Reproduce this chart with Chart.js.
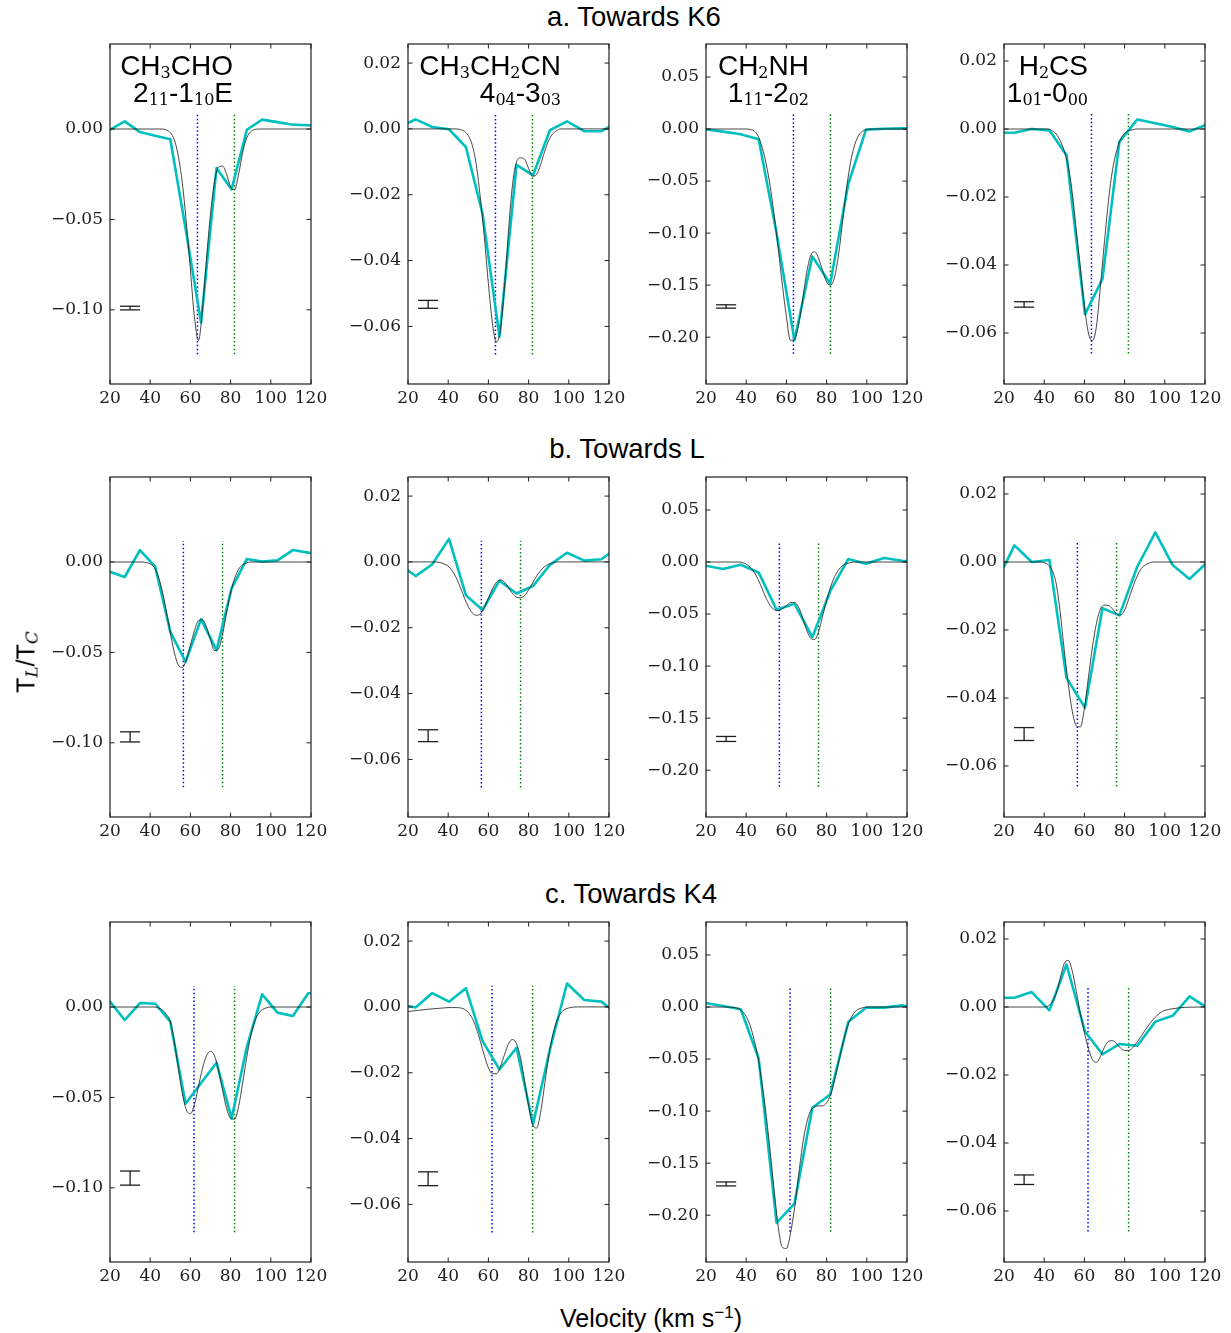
<!DOCTYPE html>
<html>
<head>
<meta charset="utf-8">
<script src="https://cdn.jsdelivr.net/npm/chart.js@4.4.0/dist/chart.umd.min.js"></script>
<style>
  html, body { margin: 0; padding: 0; background: #fff; }
  #fig { position: relative; width: 1231px; height: 1333px; overflow: hidden; background: #fff; }
  #fig canvas { position: absolute; }
  .t { position: absolute; white-space: nowrap; font-family: "Liberation Sans", Arial, sans-serif; color: #000; line-height: 1; }
  .t sub { font-family: "DejaVu Serif", serif; font-size: 16px; vertical-align: -0.2em; line-height: 0; }
  .t sub.m { font-family: "DejaVu Serif", serif; font-style: italic; font-size: 17px; }
</style>
</head>
<body>
<div id="fig"></div>
<script>
// ---------- axis ranges and labels ----------
const X_MIN = 20, X_MAX = 120;
const X_TICKS = [20, 40, 60, 80, 100, 120];
const ROW_TITLES = ['a. Towards K6', 'b. Towards L', 'c. Towards K4'];
const MOLECULES = ['CH<sub>3</sub>CHO', 'CH<sub>3</sub>CH<sub>2</sub>CN', 'CH<sub>2</sub>NH', 'H<sub>2</sub>CS'];
const TRANSITIONS = ['2<sub>11</sub>-1<sub>10</sub>E', '4<sub>04</sub>-3<sub>03</sub>', '1<sub>11</sub>-2<sub>02</sub>', '1<sub>01</sub>-0<sub>00</sub>'];
const Y_MIN = [-0.141, -0.0775, -0.245, -0.075];
const Y_MAX = [0.047, 0.0258, 0.0817, 0.025];
const Y_TICKS = [
  [-0.10, -0.05, 0.00],
  [-0.06, -0.04, -0.02, 0.00, 0.02],
  [-0.20, -0.15, -0.10, -0.05, 0.00, 0.05],
  [-0.06, -0.04, -0.02, 0.00, 0.02]
];
const X_TITLE = 'Velocity (km s<sup style="font-size:17px;line-height:0">\u22121</sup>)';
const Y_TITLE = 'T<sub class="m">L</sub>/T<sub class="m">C</sub>';

// ---------- spectral channels (km/s) per molecule ----------
const CHAN_CH3CHO   = [20, 27.3, 34.9, 42.5, 50.0, 57.6, 65.3, 73.0, 80.5, 88.1, 95.7, 103.3, 111.0, 118.6, 120];
const CHAN_CH3CH2CN = [20, 23.8, 32.1, 40.4, 48.8, 57.1, 65.5, 74.0, 82.2, 90.6, 99.1, 107.7, 116.2, 120];
const CHAN_CH2NH    = [20, 28.5, 37.3, 46.2, 55.1, 64.0, 72.9, 81.8, 90.8, 99.6, 108.6, 117.5, 120];
const CHAN_H2CS     = [20, 25.2, 33.8, 42.6, 51.1, 60.3, 69.0, 77.4, 86.3, 95.3, 103.9, 112.3, 120];

// ---------- observed line-to-continuum ratio ----------
const OBS_K6_CH3CHO   = [-0.0004, 0.0042, -0.0017, -0.0037, -0.0057, -0.055, -0.107, -0.0216, -0.0334, -0.0004, 0.0052, 0.0038, 0.0024, 0.0021, 0.002];
const OBS_K6_CH3CH2CN = [0.0018, 0.0029, 0.0006, -0.0001, -0.0055, -0.0258, -0.0631, -0.0109, -0.0141, -0.0004, 0.0023, -0.0007, -0.0007, 0.0006];
const OBS_K6_CH2NH    = [-0.0003, -0.0025, -0.005, -0.0099, -0.100, -0.203, -0.1224, -0.1487, -0.0526, -0.0006, 0.0003, 0.0006, 0.0006];
const OBS_K6_H2CS     = [-0.0011, -0.0011, 0.0000, -0.0004, -0.0077, -0.0545, -0.0441, -0.0038, 0.0028, 0.0017, 0.0006, -0.0007, 0.0011];

const OBS_L_CH3CHO    = [-0.0054, -0.0083, 0.0066, -0.0026, -0.0386, -0.0552, -0.0316, -0.0487, -0.0146, 0.0017, 0.0002, 0.0009, 0.0066, 0.0052, 0.005];
const OBS_L_CH3CH2CN  = [-0.0026, -0.0043, -0.0007, 0.0070, -0.0101, -0.0146, -0.0057, -0.0096, -0.0073, -0.0009, 0.0028, 0.0004, 0.0008, 0.0025];
const OBS_L_CH2NH     = [-0.0035, -0.0067, -0.0026, -0.010, -0.0459, -0.0401, -0.0722, -0.028, 0.0029, -0.0016, 0.0039, 0.0012, 0.0006];
const OBS_L_H2CS      = [-0.0014, 0.0049, 0.0000, 0.0006, -0.0341, -0.0429, -0.0136, -0.0157, -0.0014, 0.0087, -0.0009, -0.005, -0.0007];

const OBS_K4_CH3CHO   = [0.003, -0.0072, 0.0022, 0.0018, -0.0081, -0.0535, -0.042, -0.0308, -0.0616, -0.022, 0.007, -0.0031, -0.005, 0.0076, 0.0076];
const OBS_K4_CH3CH2CN = [0.0003, -0.0002, 0.0042, 0.0016, 0.0057, -0.0104, -0.019, -0.0124, -0.0356, -0.013, 0.0071, 0.0021, 0.0016, -0.0002];
const OBS_K4_CH2NH    = [0.0038, 0.0009, -0.0022, -0.0494, -0.2074, -0.189, -0.0968, -0.084, -0.0141, -0.0006, -0.0006, 0.0016, 0.0006];
const OBS_K4_H2CS     = [0.0027, 0.0027, 0.0044, -0.001, 0.0125, -0.0072, -0.0139, -0.0109, -0.0114, -0.0043, -0.0026, 0.0031, 0.0002];

// ---------- fitted model profiles ----------
const MODEL_V = [20, 30, 34, 36, 38, 40, 42, 44, 46, 48, 50, 52, 54, 56, 58, 60, 62, 64, 66, 68, 70,
                 72, 74, 76, 78, 80, 82, 84, 86, 88, 90, 92, 94, 96, 98, 100, 104, 110, 120];

const FIT_K6_CH3CHO = [0, 0, 0, 0, 0, 0, 0, 0, 0, -0.0005, -0.002, -0.006, -0.015, -0.030, -0.052, -0.078, -0.104, -0.117, -0.100, -0.072, -0.047,
  -0.029, -0.021, -0.0205, -0.025, -0.032, -0.0335, -0.025, -0.013, -0.005, -0.0015, -0.0003, 0, 0, 0, 0, 0, 0, 0];
const FIT_K6_CH3CH2CN = [0, 0, 0, 0, 0, 0, 0, 0, -0.0002, -0.0007, -0.002, -0.005, -0.011, -0.021, -0.033, -0.047, -0.059, -0.0648, -0.061, -0.048, -0.031,
  -0.017, -0.010, -0.0088, -0.0092, -0.012, -0.0143, -0.0138, -0.0108, -0.0068, -0.0035, -0.0015, -0.0005, 0, 0, 0, 0, 0, 0];
const FIT_K6_CH2NH = [0, 0, 0, 0, 0, 0, -0.0005, -0.002, -0.007, -0.018, -0.034, -0.056, -0.084, -0.116, -0.150, -0.180, -0.203, -0.202, -0.189, -0.165, -0.139,
  -0.122, -0.118, -0.124, -0.136, -0.147, -0.150, -0.142, -0.120, -0.088, -0.056, -0.031, -0.015, -0.006, -0.002, -0.0005, 0, 0, 0];
const FIT_K6_H2CS = [0, 0, 0, 0, 0, 0, 0, -0.0005, -0.0015, -0.0035, -0.0065, -0.011, -0.019, -0.030, -0.041, -0.052, -0.060, -0.0623, -0.058, -0.046, -0.033,
  -0.021, -0.012, -0.0065, -0.003, -0.0013, -0.0005, -0.0002, 0, 0, 0, 0, 0, 0, 0, 0, 0, 0, 0];

const FIT_L_CH3CHO = [0, 0, 0, 0, -0.0003, -0.001, -0.003, -0.008, -0.016, -0.027, -0.039, -0.050, -0.057, -0.0583, -0.054, -0.046, -0.038, -0.0325, -0.032, -0.036, -0.043,
  -0.049, -0.048, -0.040, -0.028, -0.017, -0.009, -0.004, -0.0015, -0.0005, 0, 0, 0, 0, 0, 0, 0, 0, 0];
const FIT_L_CH3CH2CN = [0, 0, 0, -0.0002, -0.0006, -0.0013, -0.0027, -0.0048, -0.0077, -0.0108, -0.0136, -0.0155, -0.0162, -0.0158, -0.0138, -0.011, -0.0082, -0.0062, -0.0055, -0.0062, -0.0078,
  -0.0096, -0.0107, -0.0109, -0.0102, -0.0085, -0.0064, -0.0043, -0.0026, -0.0014, -0.0007, -0.0003, 0, 0, 0, 0, 0, 0, 0];
const FIT_L_CH2NH = [0, 0, 0, 0, -0.0005, -0.002, -0.005, -0.010, -0.017, -0.026, -0.035, -0.042, -0.0458, -0.0466, -0.045, -0.042, -0.039, -0.0388, -0.043, -0.053, -0.065,
  -0.073, -0.0745, -0.067, -0.052, -0.037, -0.024, -0.014, -0.0075, -0.0035, -0.0015, -0.0005, 0, 0, 0, 0, 0, 0, 0];
const FIT_L_H2CS = [0, 0, 0, 0, 0, -0.0002, -0.0008, -0.0025, -0.0065, -0.015, -0.026, -0.036, -0.044, -0.0482, -0.0485, -0.043, -0.034, -0.025, -0.018, -0.0138, -0.0127,
  -0.0128, -0.0138, -0.0152, -0.0156, -0.0142, -0.011, -0.0075, -0.0045, -0.0022, -0.001, -0.0004, 0, 0, 0, 0, 0, 0, 0];

const FIT_K4_CH3CHO = [0, 0, 0, 0, 0, 0, 0, -0.0005, -0.0015, -0.004, -0.008, -0.019, -0.034, -0.048, -0.057, -0.059, -0.054, -0.044, -0.034, -0.027, -0.0245,
  -0.027, -0.035, -0.046, -0.056, -0.0615, -0.062, -0.055, -0.042, -0.028, -0.016, -0.008, -0.0035, -0.0013, -0.0004, 0, 0, 0, 0];
const FIT_K4_CH3CH2CN = [-0.0014, -0.0007, -0.0005, -0.0004, -0.0003, -0.0002, -0.0002, -0.0002, -0.0003, -0.0007, -0.0017, -0.0035, -0.0065, -0.0105, -0.0148, -0.0185, -0.0203, -0.0203, -0.018, -0.0145, -0.0112,
  -0.0099, -0.0112, -0.0155, -0.0225, -0.030, -0.0358, -0.0368, -0.032, -0.0235, -0.015, -0.0085, -0.0043, -0.0019, -0.0008, -0.0003, 0, 0, 0];
const FIT_K4_CH2NH = [0, 0, -0.0005, -0.0015, -0.004, -0.009, -0.018, -0.032, -0.050, -0.075, -0.105, -0.140, -0.178, -0.212, -0.231, -0.232, -0.218, -0.194, -0.163, -0.133, -0.112,
  -0.100, -0.096, -0.095, -0.095, -0.092, -0.084, -0.070, -0.053, -0.036, -0.021, -0.011, -0.005, -0.002, -0.0007, 0, 0, 0, 0];
const FIT_K4_H2CS = [0, 0, 0, 0, 0, 0, 0.0003, 0.0015, 0.004, 0.0085, 0.0128, 0.0137, 0.0105, 0.0045, -0.002, -0.0075, -0.0122, -0.0155, -0.0163, -0.0145, -0.0118,
  -0.0101, -0.0099, -0.0108, -0.0121, -0.0128, -0.0128, -0.012, -0.0105, -0.0088, -0.007, -0.0053, -0.0038, -0.0026, -0.0016, -0.001, -0.0005, -0.0001, 0];

// ---------- velocity components and noise ----------
const V_COMP1 = [63.5, 56.5, 61.8];
const V_COMP2 = [81.9, 76.0, 82.0];
const COMP_TOP = [[0.0081, 0.0049, 0.0163, 0.0047], [0.0116, 0.0064, 0.0200, 0.0062], [0.0116, 0.0064, 0.0200, 0.0062]];
const COMP_BOTTOM = [-0.1245, -0.0685, -0.216, -0.066];
const NOISE_V = 30, NOISE_CAP = 5;
const NOISE_CENTER = [[-0.099, -0.0533, -0.1705, -0.0516], [-0.0967, -0.0528, -0.170, -0.0506], [-0.0946, -0.0522, -0.170, -0.0508]];
const NOISE_HALF = [[0.0010, 0.0012, 0.0016, 0.0008], [0.0028, 0.0018, 0.0024, 0.0019], [0.0039, 0.0021, 0.0019, 0.0014]];

const CHANNELS = [CHAN_CH3CHO, CHAN_CH3CH2CN, CHAN_CH2NH, CHAN_H2CS];
const OBSERVED = [
  [OBS_K6_CH3CHO, OBS_K6_CH3CH2CN, OBS_K6_CH2NH, OBS_K6_H2CS],
  [OBS_L_CH3CHO, OBS_L_CH3CH2CN, OBS_L_CH2NH, OBS_L_H2CS],
  [OBS_K4_CH3CHO, OBS_K4_CH3CH2CN, OBS_K4_CH2NH, OBS_K4_H2CS]
];
const FITTED = [
  [FIT_K6_CH3CHO, FIT_K6_CH3CH2CN, FIT_K6_CH2NH, FIT_K6_H2CS],
  [FIT_L_CH3CHO, FIT_L_CH3CH2CN, FIT_L_CH2NH, FIT_L_H2CS],
  [FIT_K4_CH3CHO, FIT_K4_CH3CH2CN, FIT_K4_CH2NH, FIT_K4_H2CS]
];

// ---------- page layout ----------
const PLOT_LEFT = [110, 408, 706, 1004];
const PLOT_TOP = [44, 477, 922];
const PLOT_W = 201, PLOT_H = 340;
const AXIS_W = 100, AXIS_H = 36, PAD_TOP = 12, PAD_RIGHT = 26;
const TICK_FONT = { family: '"DejaVu Serif", serif', size: 17 };
const INK = '#1e1e1e';

const fig = document.getElementById('fig');

function addText(html, x, capY, size, align) {
  const d = document.createElement('div');
  d.className = 't';
  d.innerHTML = html;
  d.style.fontSize = size + 'px';
  d.style.left = x + 'px';
  d.style.top = (capY - 0.4885 * size) + 'px';
  if (align === 'center') d.style.transform = 'translateX(-50%)';
  if (align === 'right') d.style.transform = 'translateX(-100%)';
  fig.appendChild(d);
  return d;
}

function fmtTick(v) {
  if (Math.abs(v) < 1e-9) return '0.00';
  return (v < 0 ? '\u2212' : '') + Math.abs(v).toFixed(2);
}

// frame around the plot area with inward ticks on all four sides
const frameTicks = {
  id: 'frameTicks',
  afterDatasetsDraw(chart) {
    const { ctx, chartArea: a, scales } = chart;
    const L = 4.5;
    ctx.save();
    ctx.strokeStyle = INK;
    ctx.lineWidth = 1;
    ctx.beginPath();
    scales.x.ticks.forEach(t => {
      const p = scales.x.getPixelForValue(t.value);
      ctx.moveTo(p, a.bottom); ctx.lineTo(p, a.bottom - L);
      ctx.moveTo(p, a.top); ctx.lineTo(p, a.top + L);
    });
    scales.y.ticks.forEach(t => {
      const p = scales.y.getPixelForValue(t.value);
      ctx.moveTo(a.left, p); ctx.lineTo(a.left + L, p);
      ctx.moveTo(a.right, p); ctx.lineTo(a.right - L, p);
    });
    ctx.stroke();
    ctx.lineWidth = 1.2;
    ctx.strokeRect(a.left, a.top, a.right - a.left, a.bottom - a.top);
    ctx.restore();
  }
};

const pts = (xs, ys) => xs.map((v, i) => ({ x: v, y: ys[i] }));

function panel(r, c) {
  const W = AXIS_W + PLOT_W + PAD_RIGHT, H = PAD_TOP + PLOT_H + AXIS_H;
  const cv = document.createElement('canvas');
  cv.width = W; cv.height = H;
  cv.style.width = W + 'px'; cv.style.height = H + 'px';
  cv.style.left = (PLOT_LEFT[c] - AXIS_W) + 'px';
  cv.style.top = (PLOT_TOP[r] - PAD_TOP) + 'px';
  fig.appendChild(cv);

  const nc = NOISE_CENTER[r][c], nh = NOISE_HALF[r][c];
  const plain = { pointRadius: 0, borderWidth: 1.3, borderColor: INK, tension: 0 };

  new Chart(cv, {
    type: 'line',
    data: {
      datasets: [
        { data: pts(MODEL_V, FITTED[r][c]), borderColor: 'rgba(25,25,25,0.8)', borderWidth: 1,
          pointRadius: 0, cubicInterpolationMode: 'monotone' },
        { data: pts(CHANNELS[c], OBSERVED[r][c]), borderColor: '#00bfbf', borderWidth: 2.6,
          pointRadius: 0, tension: 0, borderJoinStyle: 'round', borderCapStyle: 'round' },
        { data: [{ x: V_COMP1[r], y: COMP_BOTTOM[c] }, { x: V_COMP1[r], y: COMP_TOP[r][c] }],
          borderColor: '#0000ff', borderWidth: 1.5, borderDash: [1.5, 2.4], pointRadius: 0 },
        { data: [{ x: V_COMP2[r], y: COMP_BOTTOM[c] }, { x: V_COMP2[r], y: COMP_TOP[r][c] }],
          borderColor: '#008000', borderWidth: 1.5, borderDash: [1.5, 2.4], pointRadius: 0 },
        Object.assign({ data: [{ x: NOISE_V, y: nc - nh }, { x: NOISE_V, y: nc + nh }] }, plain),
        Object.assign({ data: [{ x: NOISE_V - NOISE_CAP, y: nc + nh }, { x: NOISE_V + NOISE_CAP, y: nc + nh }] }, plain),
        Object.assign({ data: [{ x: NOISE_V - NOISE_CAP, y: nc - nh }, { x: NOISE_V + NOISE_CAP, y: nc - nh }] }, plain)
      ]
    },
    options: {
      responsive: false,
      animation: false,
      devicePixelRatio: 1,
      events: [],
      layout: { padding: { top: PAD_TOP, right: PAD_RIGHT, left: 0, bottom: 0 } },
      plugins: { legend: { display: false }, tooltip: { enabled: false }, title: { display: false } },
      scales: {
        x: {
          type: 'linear', min: X_MIN, max: X_MAX,
          grid: { display: false, drawTicks: false }, border: { display: false },
          ticks: { padding: 4, color: INK, font: TICK_FONT, maxRotation: 0,
                   autoSkip: false, callback: v => String(v) },
          afterBuildTicks: s => { s.ticks = X_TICKS.map(v => ({ value: v })); },
          afterFit: s => { s.height = AXIS_H; s.paddingLeft = 0; s.paddingRight = 0; }
        },
        y: {
          type: 'linear', min: Y_MIN[c], max: Y_MAX[c],
          grid: { display: false, drawTicks: false }, border: { display: false },
          ticks: { padding: 7, color: INK, font: TICK_FONT,
                   autoSkip: false, callback: v => fmtTick(v) },
          afterBuildTicks: s => { s.ticks = Y_TICKS[c].map(v => ({ value: v })); },
          afterFit: s => { s.width = AXIS_W; s.paddingTop = 0; s.paddingBottom = 0; }
        }
      }
    },
    plugins: [frameTicks]
  });
}

for (let r = 0; r < 3; r++) for (let c = 0; c < 4; c++) panel(r, c);

// row titles
const TITLE_CENTER_X = [634, 627, 631];
const TITLE_CAP_Y = [16, 448, 893];
ROW_TITLES.forEach((t, r) => addText(t, TITLE_CENTER_X[r], TITLE_CAP_Y[r], 27.5, 'center'));

// molecule and transition labels in the top row
const LABEL_RIGHT = [233, 561, 809, 1088];
MOLECULES.forEach((m, c) => {
  addText(m, LABEL_RIGHT[c], 66, 28, 'right');
  addText(TRANSITIONS[c], LABEL_RIGHT[c], 93, 28, 'right');
});

// shared axis titles
addText(X_TITLE, 651, 1318, 25, 'center');
const yl = document.createElement('div');
yl.className = 't';
yl.innerHTML = Y_TITLE;
yl.style.fontSize = '25px';
yl.style.left = '26px';
yl.style.top = '662px';
yl.style.transform = 'translate(-50%, -50%) rotate(-90deg)';
fig.appendChild(yl);
</script>
</body>
</html>
